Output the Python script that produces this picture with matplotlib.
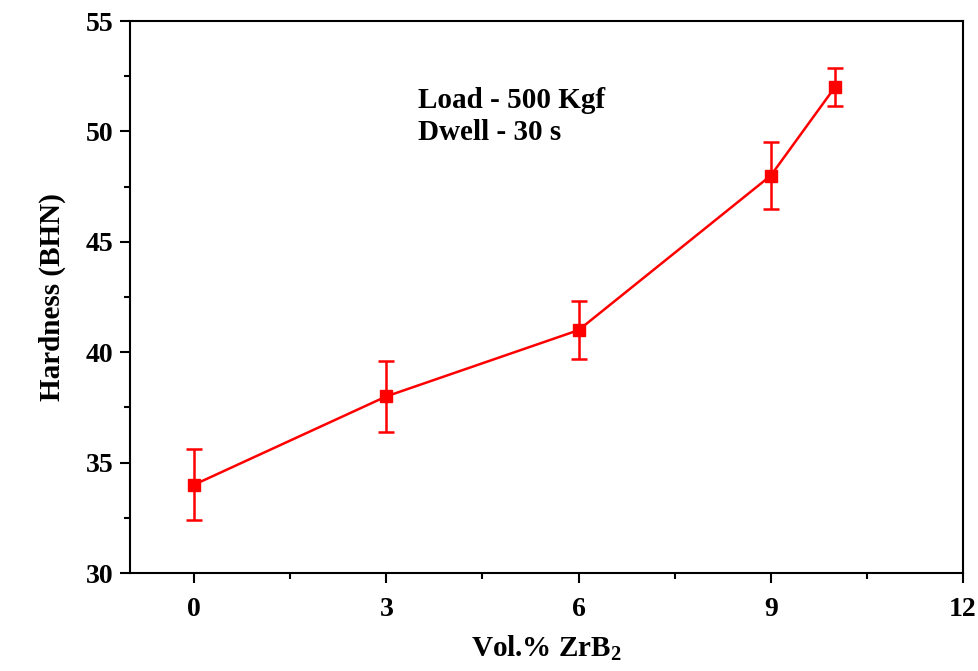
import matplotlib
matplotlib.use('Agg')
import matplotlib.pyplot as plt
from matplotlib.ticker import MultipleLocator, AutoMinorLocator

plt.rcParams['font.family'] = 'Liberation Serif'
plt.rcParams['font.weight'] = 'bold'
plt.rcParams['mathtext.fontset'] = 'custom'
plt.rcParams['mathtext.rm'] = 'Liberation Serif:bold'
plt.rcParams['mathtext.bf'] = 'Liberation Serif:bold'

# hardness vs ZrB2 content
vol_zrb2 = [0, 3, 6, 9, 10]
hardness = [34, 38, 41, 48, 52]
hardness_err = [1.6, 1.6, 1.3, 1.5, 0.87]

fig = plt.figure(figsize=(9.79, 6.71), dpi=100, facecolor='w')
ax = fig.add_axes([0.1328, 0.146, 0.8509, 0.8227])

ax.errorbar(vol_zrb2, hardness, yerr=hardness_err, color='#ff0000', marker='s',
            markersize=9, linewidth=1.8, elinewidth=1.8, capsize=6, capthick=1.8)

ax.set_xlim(-1, 12)
ax.set_ylim(30, 55)
ax.xaxis.set_major_locator(MultipleLocator(3))
ax.xaxis.set_minor_locator(AutoMinorLocator(2))
ax.yaxis.set_major_locator(MultipleLocator(5))
ax.yaxis.set_minor_locator(AutoMinorLocator(2))

ax.tick_params(which='both', direction='out', width=1.5, labelsize=20)
ax.tick_params(which='major', length=7)
ax.tick_params(which='minor', length=4)
ax.tick_params(axis='y', pad=5)
ax.tick_params(axis='x', pad=10)
for s in ax.spines.values():
    s.set_linewidth(1.5)

ax.set_xlabel(r'Vol.% ZrB$_{2}$', fontsize=21, fontweight='bold', labelpad=8)
ax.set_ylabel('Hardness (BHN)', fontsize=21, fontweight='bold', labelpad=14)

ax.text(3.5, 51.4, 'Load - 500 Kgf', fontsize=21, fontweight='bold', va='center', ha='left')
ax.text(3.5, 49.93, 'Dwell - 30 s', fontsize=21, fontweight='bold', va='center', ha='left')

fig.savefig('out.png', dpi=100)
